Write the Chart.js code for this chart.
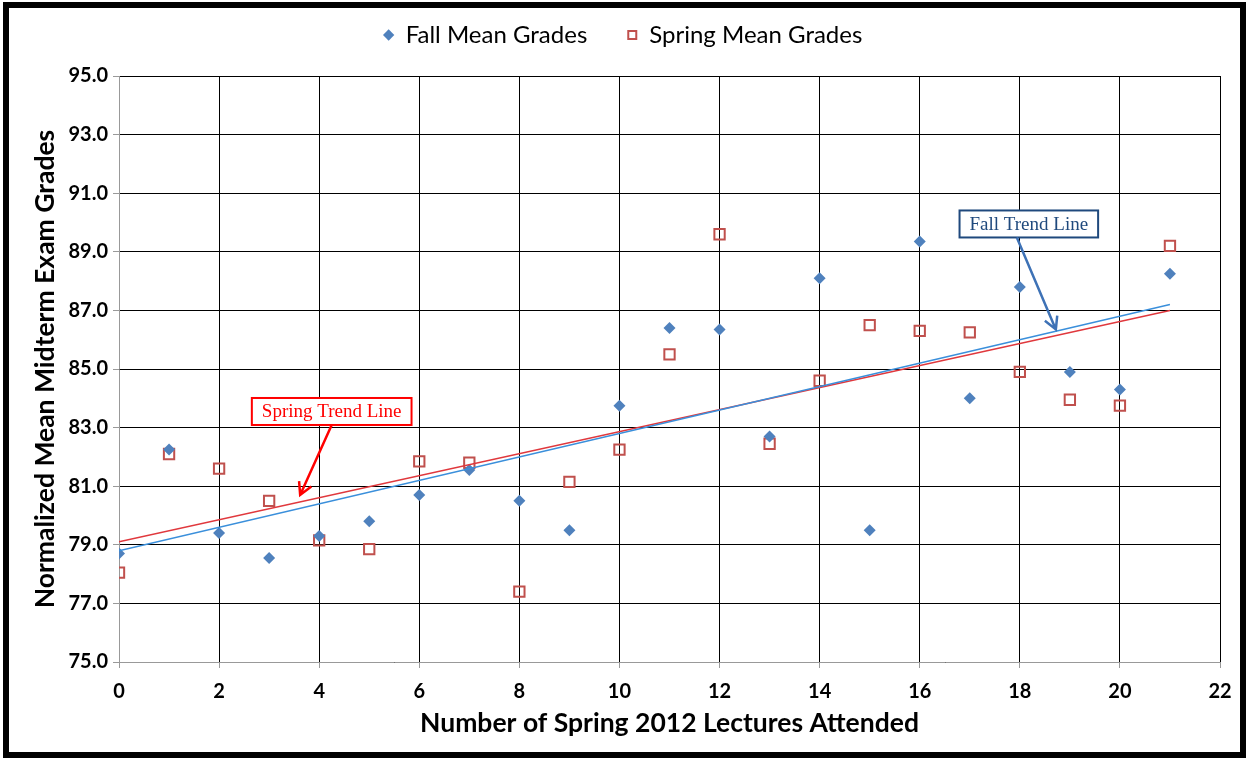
<!DOCTYPE html>
<html>
<head>
<meta charset="utf-8">
<script src="https://cdn.jsdelivr.net/npm/chart.js@4"></script>
<style>
  html, body { margin: 0; padding: 0; background: #fff; }
  #wrap { width: 1249px; height: 759px; position: relative; }
</style>
</head>
<body>
<div id="wrap"><canvas id="chart" width="1249" height="759"></canvas></div>
<script>
// lectures attended (x) for each mean
const lectures = [0, 1, 2, 3, 4, 5, 6, 7, 8, 9, 10, 11, 12, 13, 14, 15, 16, 17, 18, 19, 20, 21];
const fallMeans = [78.7, 82.25, 79.4, 78.55, 79.3, 79.8, 80.7, 81.55, 80.5, 79.5, 83.75, 86.4, 86.35, 82.7, 88.1, 79.5, 89.35, 84.0, 87.8, 84.9, 84.3, 88.25];
const springMeans = [78.05, 82.1, 81.6, 80.5, 79.15, 78.85, 81.85, 81.8, 77.4, 81.15, 82.25, 85.5, 89.6, 82.45, 84.6, 86.5, 86.3, 86.25, 84.9, 83.95, 83.75, 89.2];

// trend line end points
const trendX = [0, 21];
const fallTrend = [78.8, 87.2];
const springTrend = [79.1, 87.0];

const yTicks = [75, 77, 79, 81, 83, 85, 87, 89, 91, 93, 95];

// callout boxes: label, box centre and arrow tip in data units
const notes = [
  { text: 'Spring Trend Line', cx: 4.25, cy: 83.55, tipX: 3.62, tipY: 80.7, text_color: '#ff0000', border: '#ff0000', arrow: '#ff0000' },
  { text: 'Fall Trend Line', cx: 18.18, cy: 89.95, tipX: 18.72, tipY: 86.35, text_color: '#1f497d', border: '#1f497d', arrow: '#3e72b6' }
];

const toPts = (xs, ys) => xs.map((x, i) => ({ x: x, y: ys[i] }));

const LEGEND_PAD = 40;

const frame = {
  id: 'frame',
  // fixed legend band so the plot starts where the original does
  beforeLayout(chart) {
    const lg = chart.legend;
    if (lg && !lg._gapPatched) {
      const fit = lg.fit.bind(lg);
      lg.fit = function () { fit(); if (this.isHorizontal()) this.height = 76 + LEGEND_PAD - 23; };
      lg._gapPatched = true;
    }
  },
  afterDraw(chart) {
    const c = chart.ctx;
    c.save();
    c.strokeStyle = '#000';
    c.lineWidth = 6;
    c.strokeRect(6, 5, 1237, 750);
    c.restore();
  }
};

const callouts = {
  id: 'callouts',
  afterDatasetsDraw(chart) {
    const c = chart.ctx;
    const xs = chart.scales.x, ys = chart.scales.y;
    c.save();
    c.font = '19px "Liberation Serif", "Times New Roman", serif';
    c.textAlign = 'center';
    c.textBaseline = 'middle';
    notes.forEach(n => {
      const cx = xs.getPixelForValue(n.cx), cy = ys.getPixelForValue(n.cy);
      const w = c.measureText(n.text).width + 20, h = 27;
      c.fillStyle = '#fff';
      c.fillRect(cx - w / 2, cy - h / 2, w, h);
      c.strokeStyle = n.border;
      c.lineWidth = 2;
      c.strokeRect(cx - w / 2, cy - h / 2, w, h);
      c.fillStyle = n.text_color;
      c.fillText(n.text, cx, cy + 1);
      // arrow from box bottom to the tip
      const sx = cx + (n.tipX > n.cx ? -12 : 0), sy = cy + h / 2;
      const tx = xs.getPixelForValue(n.tipX), ty = ys.getPixelForValue(n.tipY);
      const ang = Math.atan2(ty - sy, tx - sx);
      c.strokeStyle = n.arrow;
      c.lineWidth = 2.5;
      c.beginPath();
      c.moveTo(sx, sy);
      c.lineTo(tx, ty);
      const a = 14, spread = 0.5;
      c.moveTo(tx - a * Math.cos(ang - spread), ty - a * Math.sin(ang - spread));
      c.lineTo(tx, ty);
      c.lineTo(tx - a * Math.cos(ang + spread), ty - a * Math.sin(ang + spread));
      c.stroke();
    });
    c.restore();
  }
};

const labelFont = '"Lato", "Liberation Sans", sans-serif';

new Chart(document.getElementById('chart'), {
  type: 'scatter',
  data: {
    datasets: [
      {
        label: 'Fall Mean Grades',
        data: toPts(lectures, fallMeans),
        pointStyle: 'rectRot',
        pointRadius: 6,
        pointBackgroundColor: '#4f81bd',
        pointBorderColor: '#4f81bd',
        pointBorderWidth: 0,
        backgroundColor: '#4f81bd',
        borderColor: '#4f81bd',
        order: 2
      },
      {
        label: 'Spring Mean Grades',
        data: toPts(lectures, springMeans),
        pointStyle: 'rect',
        pointRadius: 7.3,
        pointBackgroundColor: 'rgba(255,255,255,0)',
        pointBorderColor: '#c0504d',
        pointBorderWidth: 2,
        backgroundColor: 'rgba(255,255,255,0)',
        borderColor: '#c0504d',
        order: 2
      },
      {
        label: 'fallTrend',
        data: toPts(trendX, fallTrend),
        showLine: true,
        borderColor: '#3a8fdb',
        borderWidth: 1.5,
        pointRadius: 0,
        order: 0
      },
      {
        label: 'springTrend',
        data: toPts(trendX, springTrend),
        showLine: true,
        borderColor: '#e0383d',
        borderWidth: 1.5,
        pointRadius: 0,
        order: 1
      }
    ]
  },
  options: {
    responsive: false,
    animation: false,
    layout: { padding: { left: 26, right: 29, top: 23 - LEGEND_PAD, bottom: 8 } },
    plugins: {
      tooltip: { enabled: false },
      legend: {
        position: 'top',
        labels: {
          filter: item => !item.text.includes('Trend'),
          usePointStyle: true,
          boxWidth: 10,
          boxHeight: 8,
          padding: LEGEND_PAD,
          color: '#000',
          font: { family: labelFont, size: 24 }
        }
      }
    },
    scales: {
      x: {
        type: 'linear',
        min: 0,
        max: 22,
        afterFit: s => { s.height = 89; },
        ticks: {
          stepSize: 2,
          color: '#000',
          padding: 12,
          font: { family: labelFont, size: 20, weight: 'bold' }
        },
        grid: { color: '#000', lineWidth: 1, tickLength: 6, tickColor: '#999' },
        border: { color: '#999', width: 1 },
        title: {
          display: true,
          text: 'Number of Spring 2012 Lectures Attended',
          color: '#000',
          padding: { top: 4, bottom: 12 },
          font: { family: labelFont, size: 26.5, weight: 'bold' }
        }
      },
      y: {
        min: 75,
        max: 95,
        afterFit: s => { s.width = 93; },
        afterBuildTicks: s => { s.ticks = yTicks.map(v => ({ value: v })); },
        ticks: {
          color: '#000',
          padding: 5,
          callback: v => Number(v).toFixed(1),
          font: { family: labelFont, size: 20, weight: 'bold' }
        },
        grid: { color: '#000', lineWidth: 1, tickLength: 6, tickColor: '#999' },
        border: { color: '#999', width: 1 },
        title: {
          display: true,
          text: 'Normalized Mean Midterm Exam Grades',
          color: '#000',
          padding: { top: 4, bottom: 6 },
          font: { family: labelFont, size: 26.5, weight: 'bold' }
        }
      }
    }
  },
  plugins: [frame, callouts]
});
</script>
</body>
</html>
